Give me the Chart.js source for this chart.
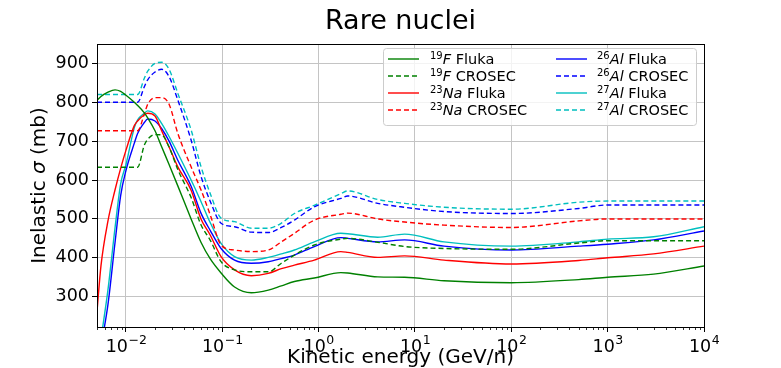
<!DOCTYPE html>
<html><head><meta charset="utf-8">
<script src="https://cdn.jsdelivr.net/npm/chart.js@4.4.1/dist/chart.umd.min.js"></script>
<style>html,body{margin:0;padding:0;background:#fff;}#wrap{width:781px;height:368px;}</style>
</head><body><div id="wrap"><canvas id="c" width="781" height="368"></canvas></div>
<script>
// ---- data ----
const energies = [0.005,0.0055,0.0065,0.0077,0.0088,0.01,0.0122,0.0132,0.0155,0.0168,0.02,0.0235,0.028,0.0345,0.0474,0.06,0.075,0.097,0.134,0.2,0.3,0.41,0.56,0.9,1.7,2.0,4.1,7.8,20,100,500,1000,3000,10000];
const f19Fluka  = [805,815,826,832,828,818,800,792,773,760,727,685,640,585,500,440,397,361,325,310,317,328,339,348,362,361,351,350,341,336,344,350,358,379];
const f19Crosec = [633,633,633,633,633,633,633,633,690,705,717,716,685,627,555,485,445,390,369,364,364,386,407,433,448,450,440,429,424,422,438,444,444,444];
const na23Fluka = [262,380,495,575,630,677,740,752,768,772,765,726,685,634,574,500,458,403,369,354,360,372,381,394,416,414,401,405,394,384,393,400,410,430];
const na23Crosec= [727,727,727,727,727,727,727,727,770,795,812,812,795,720,634,575,510,433,420,416,420,441,463,497,512,515,500,492,484,478,495,500,500,500];
const al26Fluka = [null,172,280,440,560,625,695,720,748,757,752,732,700,651,584,515,470,424,394,386,390,398,407,429,452,450,441,446,430,420,430,435,446,469];
const al26Crosec= [800,800,800,800,800,800,800,800,840,858,878,885,866,806,703,610,545,489,480,466,465,478,497,531,553,559,540,530,519,514,527,536,536,536];
const al27Fluka = [null,192,318,478,590,640,735,755,772,778,770,745,712,669,600,545,490,437,403,394,401,410,420,441,463,462,453,461,441,430,441,448,454,480];
const al27Crosec= [820,820,820,820,820,820,820,820,862,880,900,903,885,823,729,635,565,502,493,476,476,489,514,535,565,572,550,540,530,525,543,546,546,546];
const xTickPowers = [-2,-1,0,1,2,3,4];
const yTickValues = [300,400,500,600,700,800,900];

const seriesDefs = [
  {iso:'19', el:'F',  code:'Fluka',  vals:f19Fluka,  color:'#008000', dash:[]},
  {iso:'19', el:'F',  code:'CROSEC', vals:f19Crosec, color:'#008000', dash:[5,3]},
  {iso:'23', el:'Na', code:'Fluka',  vals:na23Fluka, color:'#ff0000', dash:[]},
  {iso:'23', el:'Na', code:'CROSEC', vals:na23Crosec,color:'#ff0000', dash:[5,3]},
  {iso:'26', el:'Al', code:'Fluka',  vals:al26Fluka, color:'#0000ff', dash:[]},
  {iso:'26', el:'Al', code:'CROSEC', vals:al26Crosec,color:'#0000ff', dash:[5,3]},
  {iso:'27', el:'Al', code:'Fluka',  vals:al27Fluka, color:'#00bfbf', dash:[]},
  {iso:'27', el:'Al', code:'CROSEC', vals:al27Crosec,color:'#00bfbf', dash:[5,3]}
];

const datasets = seriesDefs.map(s => ({
  label: s.iso + s.el + ' ' + s.code,
  data: energies.map((e,i)=>({x:e,y:s.vals[i]})).filter(p=>p.y!==null),
  borderColor: s.color, borderWidth: 1.4, borderDash: s.dash,
  pointRadius: 0, fill: false, cubicInterpolationMode: 'monotone', clip: 0
}));

const FONT = '"DejaVu Sans", sans-serif';

const decor = {
  id:'decor',
  afterDraw(chart){
    const ctx = chart.ctx, a = chart.chartArea, xs = chart.scales.x;
    ctx.save();
    // frame
    ctx.strokeStyle = '#000'; ctx.lineWidth = 1;
    ctx.strokeRect(Math.round(a.left)+0.5, Math.round(a.top)+0.5, Math.round(a.right-a.left), Math.round(a.bottom-a.top));
    // minor ticks
    ctx.lineWidth = 0.8;
    for (let d=-3; d<=3; d++) for (let m=2; m<=9; m++){
      const v = m*Math.pow(10,d);
      if (v < xs.min || v > xs.max) continue;
      const x = Math.round(xs.getPixelForValue(v))+0.5;
      ctx.beginPath(); ctx.moveTo(x, a.bottom); ctx.lineTo(x, a.bottom+3); ctx.stroke();
    }
    // x tick labels 10^p
    ctx.fillStyle = '#000'; ctx.textAlign = 'left'; ctx.textBaseline = 'alphabetic';
    xTickPowers.forEach(p => {
      const x = xs.getPixelForValue(Math.pow(10,p));
      const base = '10', ex = (p < 0 ? '\u2212' : '') + Math.abs(p);
      ctx.font = '17.5px ' + FONT; const wb = ctx.measureText(base).width;
      ctx.font = '12.5px ' + FONT; const we = ctx.measureText(ex).width;
      const x0 = x - (wb + we)/2;
      ctx.font = '17.5px ' + FONT; ctx.fillText(base, x0, 352);
      ctx.font = '12.5px ' + FONT; ctx.fillText(ex, x0 + wb + 0.5, 344);
    });
    // title
    ctx.textAlign = 'center'; ctx.textBaseline = 'middle';
    ctx.font = '27px ' + FONT;
    ctx.fillText('Rare nuclei', (a.left+a.right)/2, 22);
    // x label
    ctx.textBaseline = 'alphabetic';
    ctx.font = '20px ' + FONT;
    ctx.fillText('Kinetic energy (GeV/n)', (a.left+a.right)/2, 363);
    // y label with italic sigma
    ctx.save();
    ctx.translate(40, (a.top+a.bottom)/2); ctx.rotate(-Math.PI/2);
    ctx.textBaseline = 'middle';
    const p1 = 'Inelastic ', p2 = '\u03C3', p3 = ' (mb)';
    ctx.font = '20px ' + FONT; const w1 = ctx.measureText(p1).width, w3 = ctx.measureText(p3).width;
    ctx.font = 'italic 20px ' + FONT; const w2 = ctx.measureText(p2).width;
    let x0 = -(w1+w2+w3)/2; ctx.textAlign = 'left';
    ctx.font = '20px ' + FONT; ctx.fillText(p1, x0, 0);
    ctx.font = 'italic 20px ' + FONT; ctx.fillText(p2, x0+w1, 0);
    ctx.font = '20px ' + FONT; ctx.fillText(p3, x0+w1+w2, 0);
    ctx.restore();
    // legend
    const lx = 383, ly = 48, lw = 313, lh = 77, r = 3;
    ctx.fillStyle = 'rgba(255,255,255,0.8)'; ctx.strokeStyle = '#cccccc'; ctx.lineWidth = 1;
    ctx.beginPath(); ctx.roundRect(lx+0.5, ly+0.5, lw, lh, r); ctx.fill(); ctx.stroke();
    const rows = [59, 76, 93, 110];
    seriesDefs.forEach((s, i) => {
      const col = Math.floor(i/4), y = rows[i%4];
      const sx = col === 0 ? 388 : 556, tx = col === 0 ? 430 : 597;
      ctx.strokeStyle = s.color; ctx.lineWidth = 1.4; ctx.setLineDash(s.dash);
      ctx.beginPath(); ctx.moveTo(sx, y); ctx.lineTo(sx+31, y); ctx.stroke();
      ctx.setLineDash([]);
      ctx.fillStyle = '#000'; ctx.textAlign = 'left'; ctx.textBaseline = 'alphabetic';
      let x = tx;
      ctx.font = '10px ' + FONT; ctx.fillText(s.iso, x, y); x += ctx.measureText(s.iso).width;
      ctx.font = 'italic 14.5px ' + FONT; ctx.fillText(s.el, x, y+5); x += ctx.measureText(s.el).width;
      ctx.font = '14.5px ' + FONT; ctx.fillText(' ' + s.code, x, y+5);
    });
    ctx.restore();
  }
};

new Chart(document.getElementById('c'), {
  type: 'line',
  data: { datasets },
  options: {
    responsive: false, animation: false, devicePixelRatio: 1,
    layout: { padding: { left: 0, right: 77, top: 44, bottom: 0 } },
    plugins: { legend: { display: false }, tooltip: { enabled: false }, title: { display: false } },
    scales: {
      x: {
        type: 'logarithmic', min: 0.005, max: 10000,
        afterBuildTicks: sc => { sc.ticks = xTickPowers.map(p => ({ value: Math.pow(10,p), major: true })); },
        afterFit: sc => { sc.height = 41; },
        ticks: { display: false, autoSkip: false },
        grid: { color: '#c4c4c4', lineWidth: 1, tickColor: '#000', tickLength: 5, drawTicks: true },
        border: { display: true, color: '#000', width: 1 }
      },
      y: {
        type: 'linear', min: 222, max: 950,
        afterBuildTicks: sc => { sc.ticks = yTickValues.map(v => ({ value: v })); },
        afterFit: sc => { sc.width = 97; },
        ticks: { color: '#000', padding: 3, font: { family: FONT, size: 17.5 } },
        grid: { color: '#c4c4c4', lineWidth: 1, tickColor: '#000', tickLength: 5 },
        border: { display: true, color: '#000', width: 1 }
      }
    }
  },
  plugins: [decor]
});
</script>
</body></html>
